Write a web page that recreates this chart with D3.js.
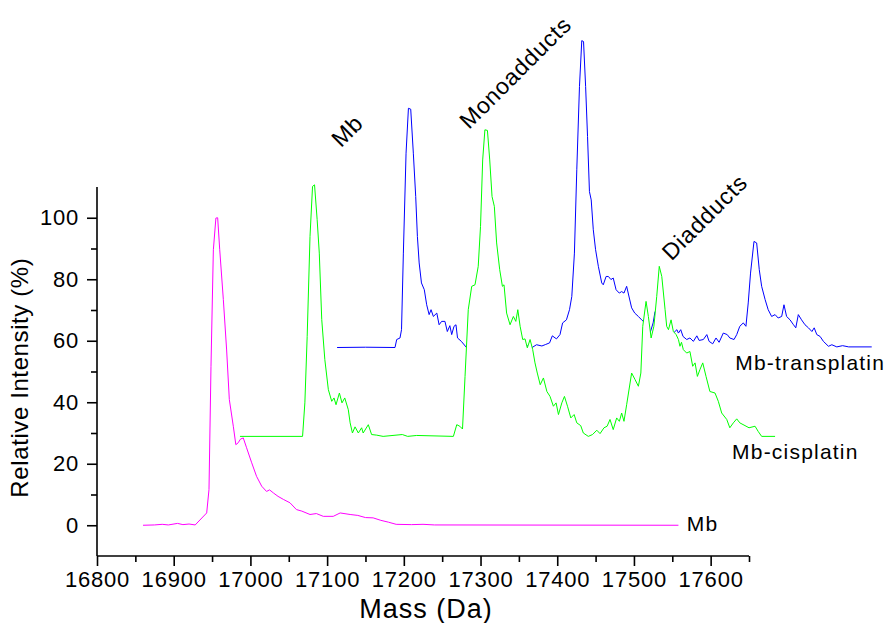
<!DOCTYPE html>
<html>
<head>
<meta charset="utf-8">
<script src="https://cdn.jsdelivr.net/npm/d3@7"></script>
<style>
  body { margin: 0; background: #fff; }
  text { font-family: "Liberation Sans", Arial, sans-serif; fill: #000; }
  .axis path, .axis line { stroke: #000; stroke-width: 1.6; }
</style>
</head>
<body>
<script>
// spectra: [mass (Da), relative intensity (%)]
var mbData = [
    [16860,0],[16875,0.1],[16885,0.3],[16893,0.1],[16905,0.6],[16912,0.2],[16920,0.4],[16928,0.1],
    [16943,4],[16946,11.6],[16948.6,51.7],[16951.7,89.6],[16955,99.9],[16957.3,100],[16960,89.6],
    [16964.7,73.4],[16969,57],[16972.5,40.9],[16977.7,32.2],[16981,26.2],[16984,26.8],[16987,28],
    [16990.7,28.4],[16995,25.2],[17001.7,20.3],[17008,15.9],[17014.7,12.7],[17021,11],[17025,11.5],
    [17030,10.5],[17036,9.4],[17043,8.4],[17051.6,7.3],[17060,5.1],[17067,4.6],[17077.7,3.5],
    [17086,3.8],[17095,2.9],[17108,2.9],[17117,4],[17130,3.5],[17140,3.2],[17150,2.5],[17160,2.4],
    [17170,1.6],[17180,1.0],[17190,0.3],[17210,0.2],[17225,0.3],[17240,0.1],[17558,0]
];
var cisData = [
    [16986.4,28.9],[17068,28.9],[17071,39.8],[17074,61.4],[17077.7,93.9],[17081,110.2],[17083.6,110.7],
    [17087,99.4],[17089.8,88.5],[17093,66.9],[17097,53.9],[17101.6,44.1],[17106,40.3],[17109,41.4],
    [17111.6,39.2],[17116,43],[17119.4,39.8],[17123,41.4],[17127.6,37.6],[17130,33.3],[17133,30],
    [17136.4,32],[17140.7,30],[17145,31.7],[17147,30],[17153.7,32.7],[17158,29.5],[17164.7,29.3],
    [17173,28.9],[17198,29.5],[17205,28.9],[17216.8,29.2],[17264.6,28.9],[17269,32.7],[17273,32.2],
    [17276.5,31.3],[17279.8,48.4],[17284,70.1],[17288.5,77.7],[17292.8,78.2],[17297,84.2],[17300,97.2],
    [17302.8,118.8],[17305.7,128.6],[17309,128.4],[17312,118.8],[17315,106.9],[17318,103.7],[17321,91.8],
    [17325,83.1],[17328.5,77.7],[17330.6,78.2],[17334,69],[17338.5,65.2],[17342.8,67.9],[17346,66.3],
    [17348.6,70.1],[17351.6,64.7],[17355,60.4],[17358,60.6],[17361,57.7],[17364.6,60.4],[17368,57.1],
    [17371,52.8],[17374,49.5],[17377.8,45.7],[17382,47.9],[17386.5,43.5],[17390.6,41.9],[17395,38.7],
    [17398.5,39.8],[17401.6,36],[17406,39.8],[17409.4,41.9],[17413.4,38.7],[17417.7,34.9],[17422,36],
    [17425.5,33.3],[17430.6,32.4],[17434,30],[17440.5,28.9],[17446,29.5],[17451.6,30.9],[17455.8,29.8],
    [17461,31.7],[17465,32.2],[17468.8,34.4],[17473,31.1],[17477.5,34.9],[17481,33.8],[17484,36.5],
    [17487,33.8],[17490.5,39.2],[17497,49.5],[17501.4,47.4],[17505.8,45.2],[17509,49.5],[17511.5,64.7],
    [17515.8,72.8],[17518.8,67.9],[17522.4,60.9],[17526,64.7],[17529.7,74.4],[17533,84.2],[17536.3,80.9],
    [17540.6,70.1],[17542.7,64.7],[17545,63.6],[17548.4,66.8],[17551.4,63],[17555,62],[17558,60.4],
    [17560,58.2],[17562,59.5],[17564.4,57.1],[17568.8,56],[17573,56.5],[17576.6,51.7],[17579.7,52.8],
    [17582.7,48.4],[17586,50.6],[17589.7,52.8],[17594,48.4],[17599,43.5],[17605.7,43],[17610,40.3],
    [17614.4,36.5],[17621,34.4],[17625,31.7],[17629.6,33.3],[17634,34.6],[17638,33.3],[17644.8,32.4],
    [17650,31.7],[17657.9,32.2],[17662,30.5],[17666.5,28.9],[17684,28.9]
];
var transData = [
    [17113,57.8],[17150,57.9],[17188.5,57.8],[17190.7,60.4],[17195,60.9],[17197,63.6],[17199.4,88.5],
    [17202.9,121],[17206,135.6],[17209,135.3],[17212.4,121],[17215.5,106.9],[17217.7,93.9],[17220,85.3],
    [17223,78.8],[17226.7,76.6],[17229.8,71.7],[17233,68.5],[17235.5,70.1],[17238.5,67.9],[17243,69],
    [17246,65.2],[17249.3,66.3],[17253.6,66.3],[17256.7,63],[17260,64.9],[17262.4,62],[17265.4,64.7],
    [17268,65.2],[17270,60.9],[17275,59.8],[17282,57.7],[17320,58],[17362,58.3],[17366.6,57.7],
    [17373,58.7],[17380,58.3],[17385,58.8],[17390,59.3],[17393.6,61.6],[17399,60.6],[17403.6,62],
    [17407,65.8],[17412,66.8],[17416,70.1],[17419,74.4],[17422.4,88.5],[17425.5,115.6],[17429,142.7],
    [17432,157.6],[17434.3,157.3],[17437,142.7],[17439.5,126.4],[17442,108.5],[17444.3,105.8],[17447,96.1],
    [17450,89.6],[17453.6,84.2],[17458,78.8],[17460,78.2],[17463.7,80.9],[17466.7,80.9],[17470,79.9],
    [17473,80.4],[17476.7,76.6],[17480.9,75.5],[17484,76],[17487,75.5],[17490.5,77.7],[17494,73.9],
    [17497,70.7],[17501,69],[17505.8,67.9],[17510,66.8],[17514.5,65.8],[17516.7,64.7],[17521,62.5],
    [17525,65.8],[17527.5,69.5],[17530,69],[17540,64],[17551.4,62.5],[17556,63.6],[17558,62.5],
    [17561,63.6],[17564,61.4],[17568.8,60.4],[17573,60.9],[17577.5,59.8],[17582,61.6],[17585,60.1],
    [17590.5,60.4],[17595,62],[17598,59.8],[17602.7,59],[17607,60.9],[17611,59.5],[17616.5,62.5],
    [17621.6,62],[17625,60.9],[17630.5,60.4],[17634,62],[17638,64.7],[17642.6,65.8],[17646,64.7],
    [17649,72.3],[17652,82],[17656.5,92.3],[17660,91.8],[17663.4,83.1],[17666.5,77.7],[17671,73.4],
    [17675,70.1],[17679.5,67.9],[17684,68.5],[17688,67.4],[17692.6,67.9],[17695.6,71.7],[17699,67.9],
    [17703.5,66.8],[17708,65.2],[17711,64.2],[17714.3,68.5],[17718.5,66.8],[17723,65.2],[17727.5,64.2],
    [17732,63],[17735,64.2],[17738.4,62],[17742.7,61.4],[17747,59.8],[17753.6,58.2],[17758,58.7],
    [17764.5,58],[17772,58.4],[17780,58],[17810,58]
];
var cisBase = 28.9;   // flat baseline of the offset cisplatin trace

var xTicks = [16800, 16900, 17000, 17100, 17200, 17300, 17400, 17500, 17600];
var xMinor = [16850, 16950, 17050, 17150, 17250, 17350, 17450, 17550, 17650];
var yTicks = [0, 20, 40, 60, 80, 100];
var yMinor = [10, 30, 50, 70, 90];

// trace name labels [text, mass, intensity]
var traceLabels = [["Mb-transplatin", 17632, 50.6], ["Mb-cisplatin", 17628, 21.4], ["Mb", 17569, -2]];
// peak annotations [text, mass, intensity]
var peakLabels = [["Mb", 17118, 122.6], ["Monoadducts", 17285, 128.5], ["Diadducts", 17549, 85.8]];

var margin = {top: 187, right: 139, bottom: 67, left: 97},
    width = 888 - margin.left - margin.right,
    height = 623 - margin.top - margin.bottom;

var x = d3.scaleLinear().domain([16800, 17650]).range([0, width]);
var y = d3.scaleLinear().domain([-10, 110]).range([height, 0]);

var svg = d3.select("body")
    .append("svg")
        .attr("width", 888)
        .attr("height", 623)
    .append("g")
        .attr("transform", "translate(" + margin.left + "," + margin.top + ")");

var valueline = d3.line()
    .x(function(d) { return x(d[0]); })
    .y(function(d) { return y(d[1]); });

var cisFill = d3.area()
    .x(function(d) { return x(d[0]); })
    .y0(y(cisBase))
    .y1(function(d) { return y(d[1]); });

svg.append("path").attr("d", valueline(mbData))
    .style("fill", "none").style("stroke", "#ff00ff").style("stroke-width", 1);
svg.append("path").attr("d", valueline(transData))
    .style("fill", "none").style("stroke", "#0000ff").style("stroke-width", 1);
// cisplatin trace sits in front and hides the transplatin trace under its peaks
svg.append("path").attr("d", cisFill(cisData)).style("fill", "#fff");
svg.append("path").attr("d", valueline(cisData))
    .style("fill", "none").style("stroke", "#00ff00").style("stroke-width", 1);

// axes
var xAxis = d3.axisBottom(x).tickValues(xTicks).tickSize(10).tickPadding(5).tickFormat(d3.format("d"));
var xAxisMinor = d3.axisBottom(x).tickValues(xMinor).tickSize(6).tickFormat("");
var yAxis = d3.axisLeft(y).tickValues(yTicks).tickSize(10).tickPadding(8);
var yAxisMinor = d3.axisLeft(y).tickValues(yMinor).tickSize(6).tickFormat("");

svg.append("g").attr("class", "axis").attr("transform", "translate(0," + height + ")").call(xAxisMinor);
svg.append("g").attr("class", "axis").attr("transform", "translate(0," + height + ")").call(xAxis);
svg.append("g").attr("class", "axis").call(yAxisMinor);
svg.append("g").attr("class", "axis").call(yAxis);

svg.selectAll(".axis .domain").remove();
svg.append("line").attr("x1", 0).attr("x2", width).attr("y1", height).attr("y2", height)
    .style("stroke", "#000").style("stroke-width", 1.6);
svg.append("line").attr("x1", 0).attr("x2", 0).attr("y1", 0).attr("y2", height)
    .style("stroke", "#000").style("stroke-width", 1.6);

svg.selectAll(".axis text")
    .style("font-size", "22px")
    .style("letter-spacing", "0.8px")
    .style("font-family", "'Liberation Sans', Arial, sans-serif");

svg.append("text")      // x-axis title
    .attr("x", width / 2 + 3)
    .attr("y", height + 62)
    .style("text-anchor", "middle")
    .style("font-size", "27px")
    .style("letter-spacing", "1px")
    .text("Mass (Da)");

svg.append("text")      // y-axis title
    .attr("transform", "rotate(-90)")
    .attr("x", -y(48))
    .attr("y", -69)
    .style("text-anchor", "middle")
    .style("font-size", "24px")
    .style("letter-spacing", "0.6px")
    .text("Relative Intensity (%)");

svg.selectAll(".trace-label")
    .data(traceLabels)
    .enter()
    .append("text")
        .attr("class", "trace-label")
        .attr("x", function(d) { return x(d[1]); })
        .attr("y", function(d) { return y(d[2]); })
        .style("font-size", "21px")
        .style("letter-spacing", "1.2px")
        .text(function(d) { return d[0]; });

svg.selectAll(".peak-label")
    .data(peakLabels)
    .enter()
    .append("text")
        .attr("class", "peak-label")
        .attr("transform", function(d) {
            return "translate(" + x(d[1]) + "," + y(d[2]) + ") rotate(-45)";
        })
        .style("font-size", "23px")
        .style("letter-spacing", "0.8px")
        .text(function(d) { return d[0]; });
</script>
</body>
</html>
